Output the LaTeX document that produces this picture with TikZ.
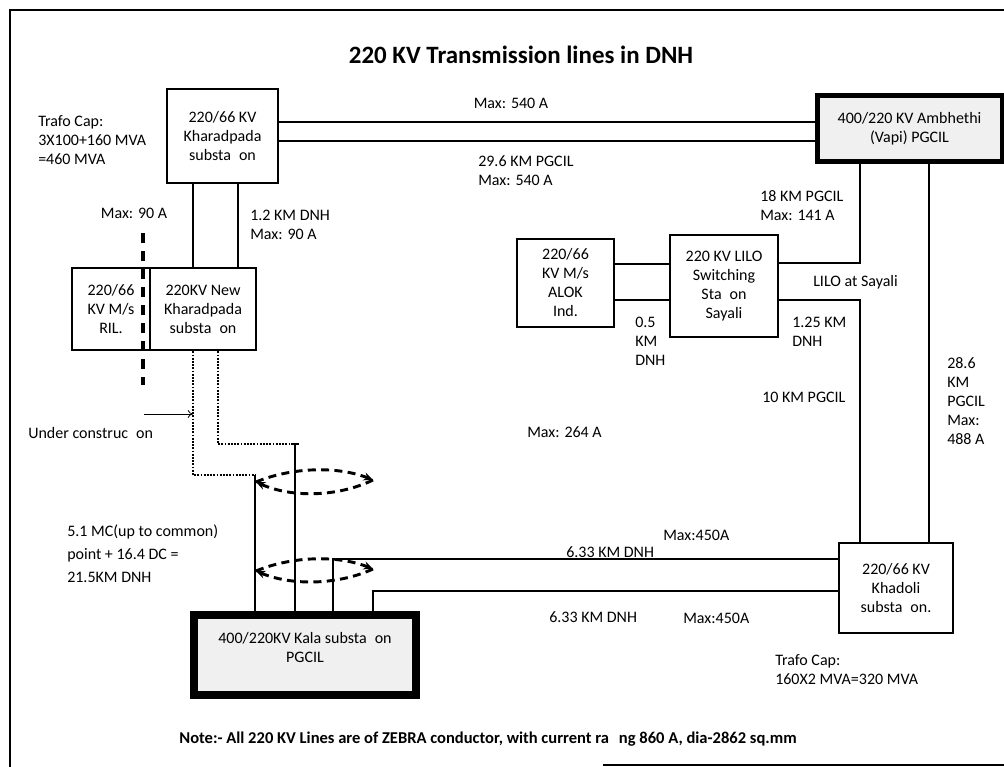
\documentclass[tikz,border=0pt]{standalone}
\usepackage{fontspec}
\setmainfont{Carlito}
\usetikzlibrary{arrows.meta}
\begin{document}
\begin{tikzpicture}[x=0.75pt,y=-0.75pt,
  every node/.style={font=\fontsize{12pt}{14.25pt}\selectfont, inner sep=0pt},
  sz/.style 2 args={minimum width=#1*0.75pt, minimum height=#2*0.75pt},
  box/.style={draw, line width=2pt, align=center, fill=white},
  pbox/.style={draw, align=center, fill=black!6},
  conn/.style={line width=1.4pt},
  uc/.style={line width=1.4pt, densely dotted},
  lab/.style={align=left, anchor=west},
  lens/.style={line width=2.2pt, dash pattern=on 6pt off 4pt},
  lensarrow/.style={lens, -{Stealth[length=7pt,width=6pt]}},
  ril dash/.style={line width=2.4pt, dash pattern=on 7.5pt off 6pt},
  frame/.style={line width=1.4pt},
]
\useasboundingbox (0,0) rectangle (1004,767);

% frame
\draw[frame] (10,767) -- (10,10) -- (1004,10);
\draw[frame] (603,765) -- (1004,765);

% title
\node[font=\bfseries\fontsize{18.7pt}{22pt}\selectfont] (title) at (521,55) {220 KV Transmission lines in DNH};

% substations
\node[box, sz={111}{94}] (khar) at (222.5,136) {220/66 KV\\Kharadpada\\substa\hspace{.5em}on};
\node[pbox, line width=3.75pt, sz={185}{65}] (amb) at (909.5,128.5) {400/220 KV Ambhethi\\(Vapi) PGCIL};
\node[box, sz={78}{82}] (ril) at (111,309) {220/66\\KV M/s\\RIL.};
\node[box, sz={106}{82}] (newk) at (203,309) {220KV New\\Kharadpada\\substa\hspace{.5em}on};
\node[box, sz={97}{88}] (alok) at (565.5,283) {220/66\\KV M/s\\ALOK\\Ind.};
\node[box, sz={108}{102}] (lilo) at (724,286) {220 KV LILO\\Switching\\Sta\hspace{.5em}on\\Sayali};
\node[box, sz={114}{90}] (khad) at (896,588) {220/66 KV\\Khadoli\\substa\hspace{.5em}on.};
\node[pbox, line width=6pt, sz={222}{80}] (kala) at (305,655) {400/220KV Kala substa\hspace{.5em}on\\PGCIL\\[-3pt]\mbox{}};

% Kharadpada - Ambhethi
\draw[conn] (khar.east |- 0,122) -- (amb.west |- 0,122);
\draw[conn] (khar.east |- 0,141) -- (amb.west |- 0,141);

% Ambhethi - LILO - Khadoli
\draw[conn] (amb.south -| 860,0) |- (lilo.east |- 0,263);
\draw[conn] (lilo.east |- 0,300) -| (khad.north -| 860,0);
\draw[conn] (amb.south -| 929,0) -- (khad.north -| 929,0);

% ALOK - LILO
\draw[conn] (alok.east |- 0,264) -- (lilo.west |- 0,264);
\draw[conn] (alok.east |- 0,300) -- (lilo.west |- 0,300);

% Kharadpada - New Kharadpada
\draw[conn] (khar.south -| 193,0) -- (newk.north -| 193,0);
\draw[conn] (khar.south -| 238,0) -- (newk.north -| 238,0);

% New Kharadpada - Kala (under construction)
\coordinate (j1) at (255,475);
\coordinate (j2) at (295,444);
\draw[uc] (newk.south -| 193,0) |- (j1);
\draw[uc] (newk.south -| 218,0) |- (j2);
\draw[conn] (j1) -- (kala.north -| j1);
\draw[conn] (j2) -- (kala.north -| j2);
\draw[conn] ([xshift=-3pt]j2) -- ([xshift=3pt]j2);

% Kala - Khadoli
\draw[conn] (kala.north -| 333,0) |- (khad.west |- 0,559);
\draw[conn] (kala.north -| 373,0) |- (khad.west |- 0,591);

% crossing lenses
\coordinate (l1) at (256,482); \coordinate (r1) at (373,480);
\draw[lensarrow] (l1) .. controls (292,467) and (338,466) .. (r1);
\draw[lensarrow] (r1) .. controls (338,497) and (292,498) .. (l1);
\coordinate (l2) at (256,571); \coordinate (r2) at (373,569);
\draw[lensarrow] (l2) .. controls (292,556) and (338,555) .. (r2);
\draw[lensarrow] (r2) .. controls (338,585) and (292,586) .. (l2);

% RIL dashed boundary
\coordinate (d1) at (143,233); \coordinate (d2) at (143,385);
\draw[ril dash] (d1) -- (d2);

% under construction pointer
\coordinate (ucs) at (144,414);
\draw[line width=0.6pt, -{To[length=4pt,width=6pt]}] (ucs) -- (ucs -| 193,0);

% labels
\node[lab] (t1) at (38,140) {Trafo Cap:\\3X100+160 MVA\\=460 MVA};
\node (m540a) at (511,103) {Max: 540 A};
\node[lab] (k296) at (478,171) {29.6 KM PGCIL\\Max: 540 A};
\node (m90) at (134,213) {Max: 90 A};
\node[lab] (k12) at (250,225) {1.2 KM DNH\\Max: 90 A};
\node[lab] (k18) at (760,206) {18 KM PGCIL\\Max: 141 A};
\node[lab] (lat) at (813,282) {LILO at Sayali};
\node[lab] (k05) at (635,341) {0.5\\KM\\DNH};
\node[lab] (k125) at (792,332) {1.25 KM\\DNH};
\node[lab] (k10) at (762,397) {10 KM PGCIL};
\node[lab] (k286) at (947,401) {28.6\\KM\\PGCIL\\Max:\\488 A};
\node[lab] (m264) at (527,432) {Max: 264 A};
\node[lab] (ucl) at (28,433) {Under construc\hspace{.5em}on};
\node[lab, font=\fontsize{12pt}{17.25pt}\selectfont] (mc) at (67,554) {5.1 MC(up to common)\\point + 16.4 DC =\\21.5KM DNH};
\node[lab] (m450a) at (663,535) {Max:450A};
\node[lab] (k633a) at (566,552) {6.33 KM DNH};
\node[lab] (k633b) at (549,617) {6.33 KM DNH};
\node[lab] (m450b) at (683,618) {Max:450A};
\node[lab] (t2) at (775,670) {Trafo Cap:\\160X2 MVA=320 MVA};
\node[font=\bfseries\fontsize{12.4pt}{14pt}\selectfont] (note) at (488,739) {Note:- All 220 KV Lines are of ZEBRA conductor, with current ra\hspace{.6em}ng 860 A, dia-2862 sq.mm};
\end{tikzpicture}
\end{document}
